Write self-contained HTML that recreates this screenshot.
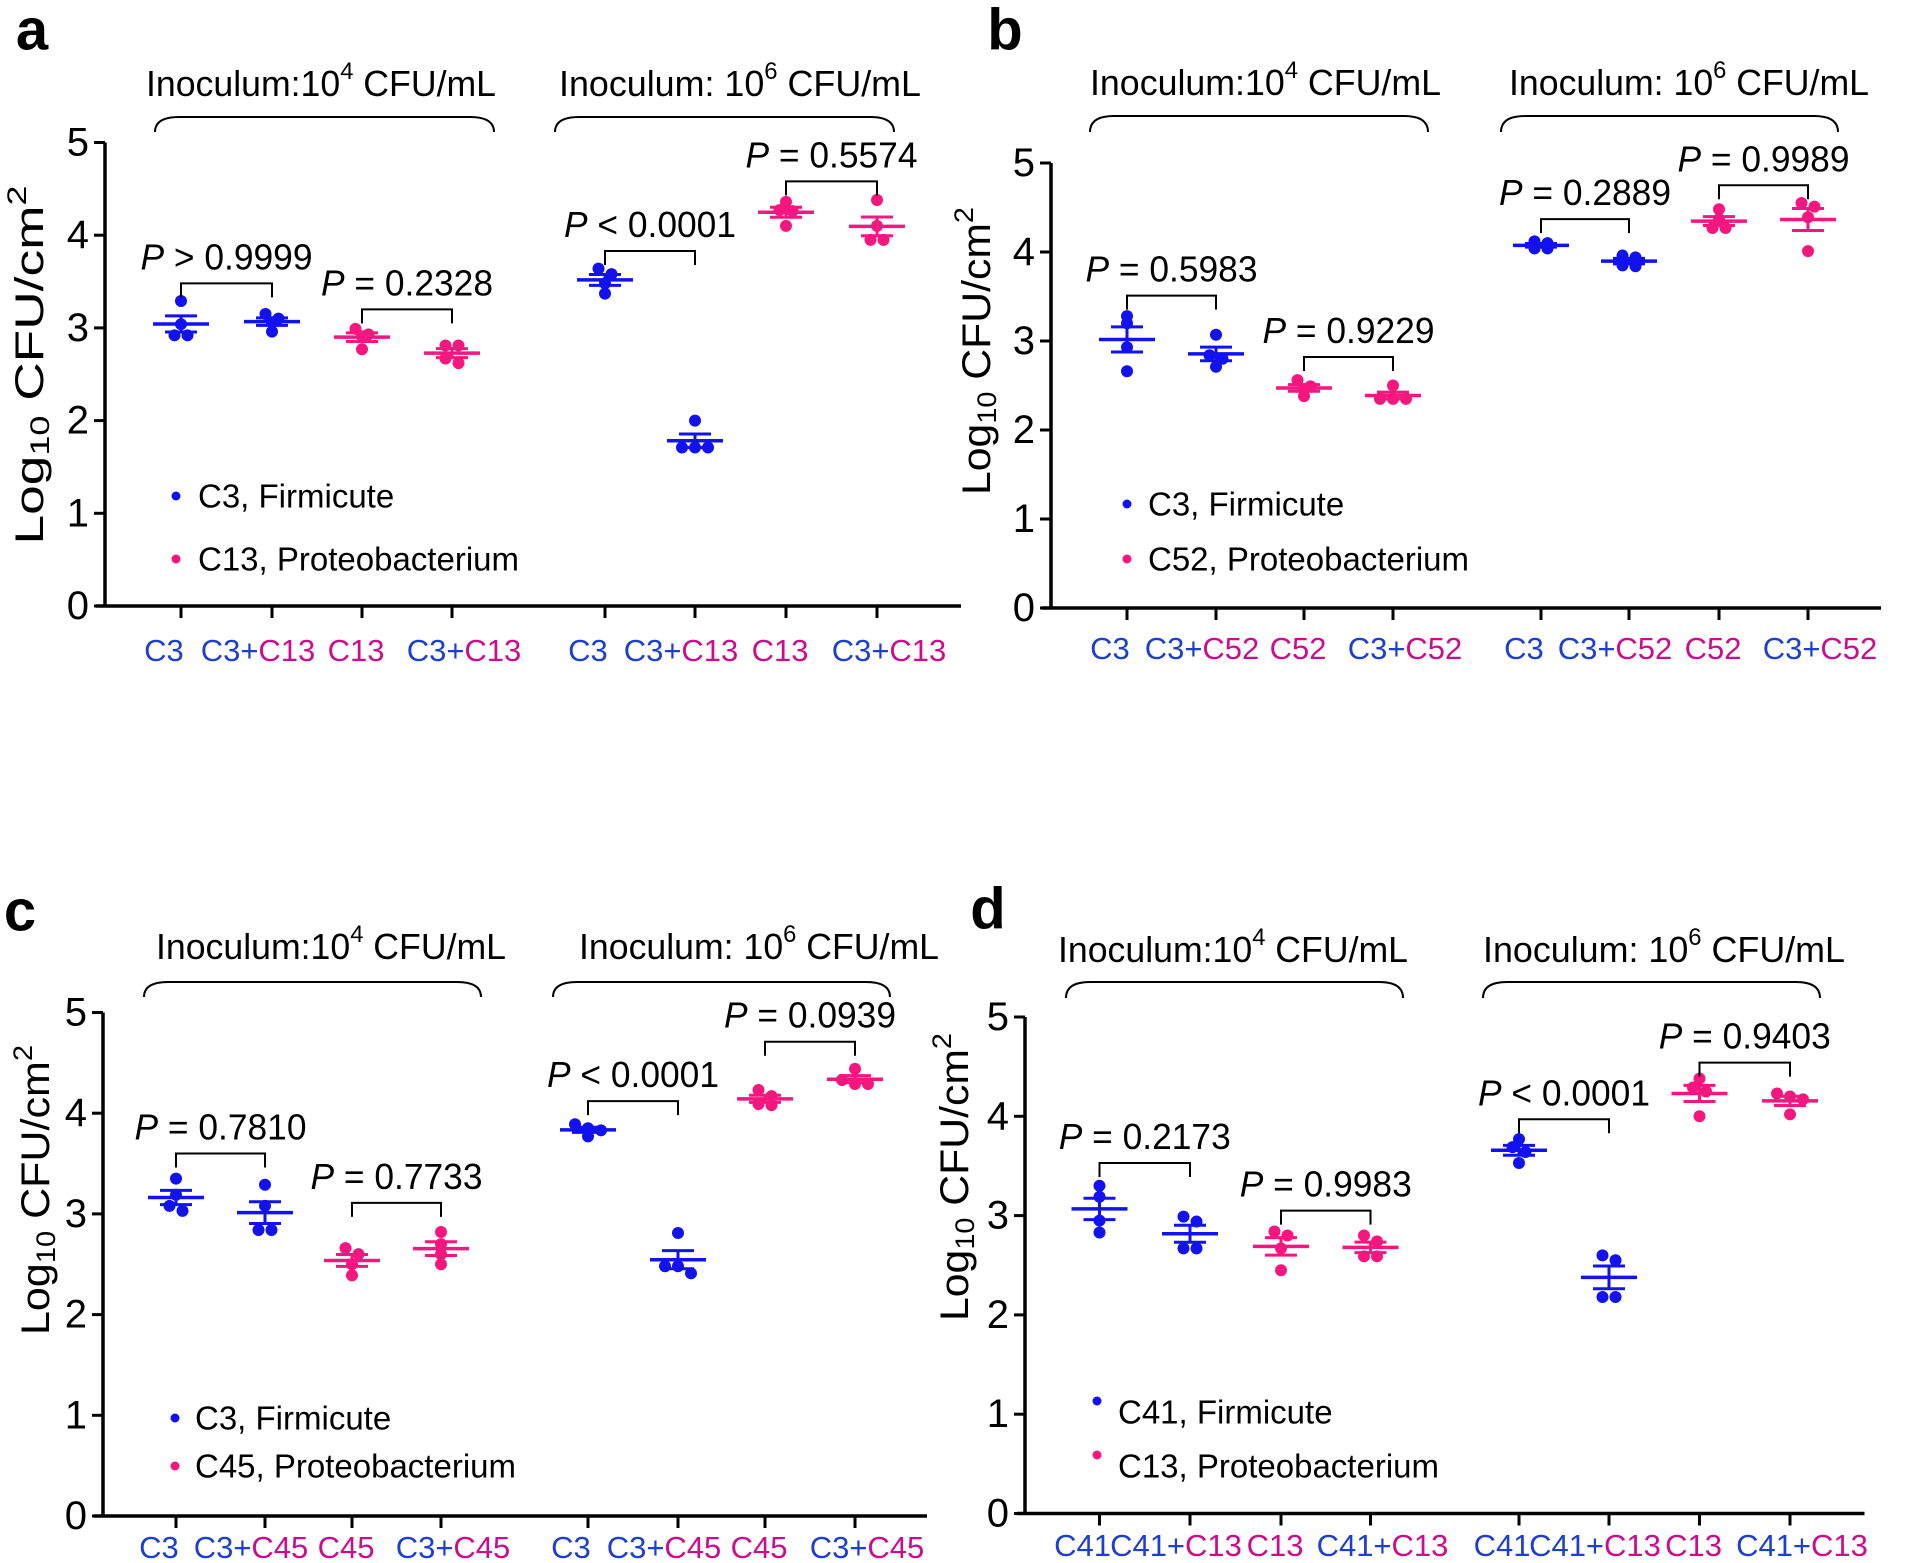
<!DOCTYPE html>
<html><head><meta charset="utf-8"><style>
html,body{margin:0;padding:0;background:#fff;}
svg{display:block;font-family:"Liberation Sans",Arial,sans-serif;}
</style></head><body>
<svg id="fig" width="1907" height="1563" viewBox="0 0 1907 1563"></svg>
<script>
// ---------- data ----------
const aCategories = ['C3','C3+C13','C13','C3+C13','C3','C3+C13','C13','C3+C13'];
const aValues = [[3.29,3.04,2.92,2.92],[3.15,3.10,3.06,2.96],[2.99,2.93,2.91,2.77],[2.81,2.81,2.67,2.62],[3.64,3.58,3.48,3.37],[2.0,1.71,1.71,1.71],[4.36,4.27,4.26,4.10],[4.38,4.10,3.95,3.95]];
const aPLabels = [' > 0.9999',' = 0.2328',' < 0.0001',' = 0.5574'];
const aBracketTop = [3.48,3.20,3.83,4.58];
const aLegend = ['C3, Firmicute','C13, Proteobacterium'];

const bCategories = ['C3','C3+C52','C52','C3+C52','C3','C3+C52','C52','C3+C52'];
const bValues = [[3.28,3.2,2.93,2.66],[3.07,2.84,2.80,2.71],[2.56,2.49,2.46,2.38],[2.5,2.35,2.35,2.35],[4.12,4.10,4.04,4.04],[3.96,3.94,3.85,3.84],[4.48,4.37,4.27,4.27],[4.55,4.51,4.39,4.01]];
const bPLabels = [' = 0.5983',' = 0.9229',' = 0.2889',' = 0.9989'];
const bBracketTop = [3.51,2.82,4.37,4.75];
const bLegend = ['C3, Firmicute','C52, Proteobacterium'];

const cCategories = ['C3','C3+C45','C45','C3+C45','C3','C3+C45','C45','C3+C45'];
const cValues = [[3.35,3.19,3.08,3.03],[3.29,3.08,2.84,2.84],[2.66,2.60,2.50,2.39],[2.82,2.70,2.60,2.50],[3.89,3.85,3.83,3.77],[2.81,2.48,2.48,2.41],[4.23,4.17,4.09,4.08],[4.44,4.33,4.29,4.29]];
const cPLabels = [' = 0.7810',' = 0.7733',' < 0.0001',' = 0.0939'];
const cBracketTop = [3.60,3.11,4.12,4.71];
const cLegend = ['C3, Firmicute','C45, Proteobacterium'];

const dCategories = ['C41','C41+C13','C13','C41+C13','C41','C41+C13','C13','C41+C13'];
const dValues = [[3.30,3.19,2.95,2.83],[2.99,2.94,2.67,2.67],[2.84,2.80,2.67,2.45],[2.80,2.74,2.59,2.59],[3.77,3.69,3.64,3.53],[2.60,2.55,2.18,2.18],[4.38,4.29,4.25,4.00],[4.23,4.20,4.17,4.02]];
const dPLabels = [' = 0.2173',' = 0.9983',' < 0.0001',' = 0.9403'];
const dBracketTop = [3.53,3.05,3.97,4.54];
const dLegend = ['C41, Firmicute','C13, Proteobacterium'];

const groupSpecies = ['F','F','P','P','F','F','P','P'];
const yTicks = [0,1,2,3,4,5];

// ---------- layout ----------
const BLUE='#1212ee', PINK='#f5177f', LBLUE='#1c3fcf', LMAG='#cc0c8e';
const labelShift=[-17,-14,-6,12];
const panels = [
 {id:'a',letter:[32,30],x0:105,y0:606,unit:92.7,xs:[181,272,362,452,605,695,786,877],xStart:96,xEnd:961,
  heads:[[146,496],[559,921]],headY:83,braces:[[155,494],[555,894]],brT:117,brB:132,xlabY:650,
  leg:[[176,496],[176,559]],legTx:198,yt:[30,365,359],cat:aCategories,val:aValues,pl:aPLabels,bt:aBracketTop,lg:aLegend},
 {id:'b',letter:[1005,30],x0:1051,y0:608,unit:89,xs:[1127,1216,1304,1393,1541,1629,1719,1808],xStart:1042,xEnd:1881,
  heads:[[1090,1441],[1509,1869]],headY:82,braces:[[1090,1428],[1501,1838]],brT:116,brB:132,xlabY:648,
  leg:[[1127,504],[1127,559]],legTx:1148,yt:[977,351,288],cat:bCategories,val:bValues,pl:bPLabels,bt:bBracketTop,lg:bLegend},
 {id:'c',letter:[20,911],x0:103,y0:1516,unit:100.7,xs:[176,265,352,441,588,678,765,855],xStart:94,xEnd:927,
  heads:[[156,506],[579,939]],headY:946,braces:[[144,481],[553,890]],brT:982,brB:997,xlabY:1547,
  leg:[[175,1418],[175,1466]],legTx:195,yt:[36,1190,290],cat:cCategories,val:cValues,pl:cPLabels,bt:cBracketTop,lg:cLegend},
 {id:'d',letter:[988,909],x0:1025,y0:1513.5,unit:99.3,xs:[1099.5,1190,1281,1370.5,1519,1609,1699.5,1790],xStart:1017,xEnd:1864.5,
  heads:[[1058,1408],[1483,1845]],headY:949,braces:[[1066,1403],[1483,1820]],brT:982,brB:998,xlabY:1545,
  leg:[[1097,1401],[1097,1455]],legTx:1118,legTy:[1412,1466],yt:[955,1177,288],cat:dCategories,val:dValues,pl:dPLabels,bt:dBracketTop,lg:dLegend}
];

const NS='http://www.w3.org/2000/svg';
const svg=document.getElementById('fig');
function mk(tag,attrs,parent){const e=document.createElementNS(NS,tag);for(const k in attrs)e.setAttribute(k,attrs[k]);(parent||svg).appendChild(e);return e;}
function ts(parent,txt,attrs){const t=document.createElementNS(NS,'tspan');for(const k in (attrs||{}))t.setAttribute(k,attrs[k]);t.textContent=txt;parent.appendChild(t);return t;}

panels.forEach(p=>{
  const g=mk('g',{});
  
  
  const Y=v=>p.y0-v*p.unit;
  const X=i=>p.xs[i];

  const L=mk('text',{x:p.letter[0],y:p.letter[1],'font-size':58,'font-weight':'bold','text-anchor':'middle','dominant-baseline':'central'},g);
  L.textContent=p.id;
  
  

  p.heads.forEach((h,k)=>{
    const t=mk('text',{x:h[0],y:p.headY,'font-size':36,'dominant-baseline':'central',textLength:h[1]-h[0],lengthAdjust:'spacingAndGlyphs'},g);
    ts(t,k===0?'Inoculum:10':'Inoculum: 10');
    ts(t,k===0?'4':'6',{'font-size':24,dy:-12});
    ts(t,' CFU/mL',{dy:12});
    
    
  });
  p.braces.forEach((b,k)=>{
    const r=24;
    const br=mk('path',{d:`M${b[0]},${p.brB} Q${b[0]},${p.brT} ${b[0]+r},${p.brT} L${b[1]-r},${p.brT} Q${b[1]},${p.brT} ${b[1]},${p.brB}`,fill:'none',stroke:'#000','stroke-width':2},g);
    
    
  });

  const ya=mk('line',{x1:p.x0,y1:p.y0+1.5,x2:p.x0,y2:Y(5),stroke:'#000','stroke-width':3.5},g);
  
  
  const xa=mk('line',{x1:p.xStart,y1:p.y0,x2:p.xEnd,y2:p.y0,stroke:'#000','stroke-width':3.5},g);
  
  
  yTicks.forEach(v=>{
    const tk=mk('line',{x1:p.x0-11,y1:Y(v),x2:p.x0,y2:Y(v),stroke:'#000','stroke-width':3},g);
    
    
    const tl=mk('text',{x:p.x0-16,y:Y(v),'font-size':40,'text-anchor':'end','dominant-baseline':'central'},g);
    tl.textContent=String(v);
    
    
  });
  const yt=mk('text',{x:0,y:0,'font-size':40,'text-anchor':'middle','dominant-baseline':'central',transform:`translate(${p.yt[0]},${p.yt[1]}) rotate(-90)`,textLength:p.yt[2],lengthAdjust:'spacingAndGlyphs'},g);
  ts(yt,'Log');ts(yt,'10',{'font-size':27,dy:10});ts(yt,' CFU/cm',{dy:-10});ts(yt,'2',{'font-size':27,dy:-13});
  
  

  const firm=p.cat[0];
  p.cat.forEach((c,i)=>{
    const tk=mk('line',{x1:X(i),y1:p.y0,x2:X(i),y2:p.y0+12,stroke:'#000','stroke-width':3},g);
    
    
    const tl=mk('text',{x:X(i)+labelShift[i%4],y:p.xlabY,'font-size':31,'text-anchor':'middle','dominant-baseline':'central'},g);
    const parts=c.split('+');
    if(parts.length===2){ts(tl,parts[0]+'+',{fill:LBLUE});ts(tl,parts[1],{fill:LMAG});}
    else ts(tl,c,{fill:c===firm?LBLUE:LMAG});
    
    
  });

  p.val.forEach((vals,i)=>{
    const col=groupSpecies[i]==='F'?BLUE:PINK;
    const n=vals.length;
    const mean=vals.reduce((a,b)=>a+b,0)/n;
    const sd=Math.sqrt(vals.reduce((a,b)=>a+(b-mean)*(b-mean),0)/(n-1));
    const sem=sd/Math.sqrt(n);
    const gg=mk('g',{},g);
    
    
    const idx=vals.map((v,k)=>k).sort((a,b)=>vals[b]-vals[a]);
    const off=new Array(n).fill(0);
    let s=0;
    while(s<n){let e=s;while(e+1<n&&Math.abs(vals[idx[e+1]]-vals[idx[s]])<0.07)e++;
      const m=e-s+1;for(let k=s;k<=e;k++)off[idx[k]]=(k-s-(m-1)/2)*13;s=e+1;}
    vals.forEach((v,k)=>{
      const c=mk('circle',{cx:X(i)+off[k],cy:Y(v),r:6,fill:col},gg);
      
      
    });
    const ml=mk('line',{x1:X(i)-28,x2:X(i)+28,y1:Y(mean),y2:Y(mean),stroke:col,'stroke-width':3.5},gg);
    
    
    const ev=mk('path',{d:`M${X(i)},${Y(mean-sem)} L${X(i)},${Y(mean+sem)} M${X(i)-16},${Y(mean+sem)} L${X(i)+16},${Y(mean+sem)} M${X(i)-16},${Y(mean-sem)} L${X(i)+16},${Y(mean-sem)}`,stroke:col,'stroke-width':3,fill:'none'},gg);
    
    
  });

  p.bt.forEach((top,k)=>{
    const i1=2*k,i2=2*k+1,yt=Y(top);
    const br=mk('path',{d:`M${X(i1)},${yt+14} L${X(i1)},${yt} L${X(i2)},${yt} L${X(i2)},${yt+14}`,fill:'none',stroke:'#000','stroke-width':2},g);
    
    
    const t=mk('text',{x:(X(i1)+X(i2))/2,y:yt-14,'font-size':36,'text-anchor':'middle',textLength:172,lengthAdjust:'spacingAndGlyphs'},g);
    ts(t,'P',{'font-style':'italic'});ts(t,p.pl[k]);
    
    
  });

  p.lg.forEach((txt,k)=>{
    const col=k===0?BLUE:PINK;
    const d=mk('circle',{cx:p.leg[k][0],cy:p.leg[k][1],r:4.5,fill:col},g);
    
    
    const ty=p.legTy?p.legTy[k]:p.leg[k][1];
    const t=mk('text',{x:p.legTx,y:ty,'font-size':33,'dominant-baseline':'central'},g);
    t.textContent=txt;
    
    
  });
});
</script>
</body></html>
